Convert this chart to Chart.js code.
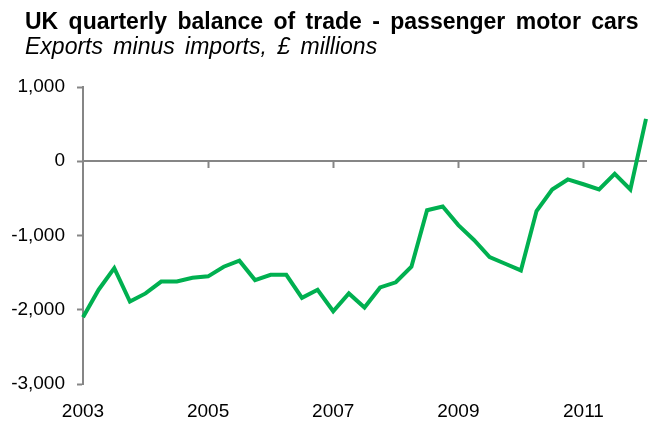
<!DOCTYPE html>
<html>
<head>
<meta charset="utf-8">
<script src="https://cdn.jsdelivr.net/npm/chart.js@4/dist/chart.umd.min.js"></script>
<style>
  html, body { margin: 0; padding: 0; background: #fff; }
  #wrap { width: 654px; height: 421px; }
</style>
</head>
<body>
<div id="wrap"><canvas id="graphique"></canvas></div>
<script>
// Trimestres 2003 T1 -> 2012 T1
const annees = [2003, 2004, 2005, 2006, 2007, 2008, 2009, 2010, 2011, 2012];
const trimestres = ['Q1', 'Q2', 'Q3', 'Q4'];
const anneesAffichees = ['2003', '2005', '2007', '2009', '2011'];

// Solde exportations - importations, en millions de livres
const solde = [
  -2100, -1730, -1440, -1890, -1780, -1620, -1620, -1570,
  -1550, -1420, -1340, -1600, -1530, -1530, -1840, -1730,
  -2020, -1780, -1970, -1700, -1630, -1420, -660, -610,
  -860, -1060, -1290, -1380, -1470, -670, -380, -245,
  -310, -380, -170, -380, 570
];

const titre = 'UK quarterly balance of trade - passenger motor cars';
const sousTitre = 'Exports minus imports, £ millions';

const etiquettes = [];
annees.forEach(a => trimestres.forEach(t => etiquettes.push(a + ' ' + t)));
etiquettes.length = solde.length;

const police = '"Liberation Sans", Arial, sans-serif';
const gris = '#868686';
const vert = '#00B050';

// Titre et sous-titre dessinés à la main (décalés à gauche comme dans Excel)
const pluginTitres = {
  id: 'titres',
  afterDraw(chart) {
    const ctx = chart.ctx;
    ctx.save();
    ctx.fillStyle = '#000';
    ctx.textAlign = 'left';
    ctx.textBaseline = 'alphabetic';
    ctx.wordSpacing = '4px';
    ctx.font = 'bold 23px ' + police;
    ctx.fillText(titre, 25, 29);
    ctx.font = 'italic 23px ' + police;
    ctx.fillText(sousTitre, 25, 54);
    ctx.restore();
  }
};

new Chart(document.getElementById('graphique'), {
  type: 'line',
  data: {
    labels: etiquettes,
    datasets: [{
      label: 'Solde',
      data: solde,
      borderColor: vert,
      borderWidth: 4,
      pointRadius: 0,
      tension: 0,
      xAxisID: 'x',
      yAxisID: 'y'
    }]
  },
  plugins: [pluginTitres],
  options: {
    responsive: true,
    maintainAspectRatio: false,
    animation: false,
    layout: { padding: { top: 87, left: 0, right: 4, bottom: 0 } },
    plugins: {
      legend: { display: false },
      tooltip: { enabled: false },
      title: { display: false }
    },
    scales: {
      // axe horizontal qui croise à zéro, avec les graduations tous les 2 ans
      x: {
        type: 'category',
        position: { y: 0 },
        offset: false,
        border: { display: true, color: gris, width: 2 },
        grid: {
          drawOnChartArea: false,
          drawTicks: true,
          tickLength: 6,
          tickWidth: 2,
          tickColor: c => (c.index % 8 === 0 && c.index > 0) ? gris : 'rgba(0,0,0,0)'
        },
        ticks: { display: false, autoSkip: false },
        afterFit: s => { s.height = 0; }
      },
      // étiquettes des années en bas du graphique
      xBas: {
        type: 'category',
        position: 'bottom',
        labels: etiquettes,
        offset: false,
        border: { display: false },
        grid: { display: false },
        ticks: {
          autoSkip: false,
          maxRotation: 0,
          padding: 8,
          color: '#000',
          font: { family: police, size: 19 },
          callback: (v, i) => (i % 8 === 0) ? anneesAffichees[i / 8] : ''
        },
        afterFit: s => { s.height = 37; }
      },
      y: {
        min: -3000,
        max: 1000,
        border: { display: true, color: gris, width: 2 },
        grid: {
          drawOnChartArea: false,
          drawTicks: true,
          tickLength: 6,
          tickWidth: 2,
          tickColor: gris
        },
        ticks: {
          stepSize: 1000,
          padding: 12,
          color: '#000',
          font: { family: police, size: 19 }
        },
        afterFit: s => { s.width = 83; }
      }
    }
  }
});
</script>
</body>
</html>
